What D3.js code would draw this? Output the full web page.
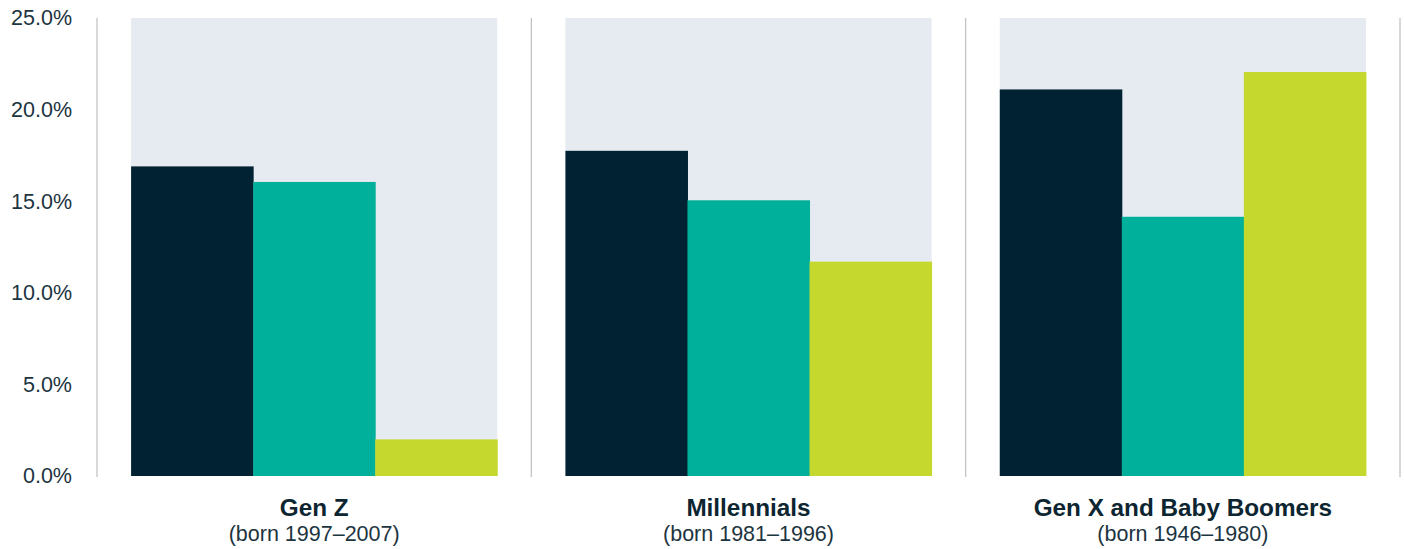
<!DOCTYPE html>
<html>
<head>
<meta charset="utf-8">
<script src="https://cdn.jsdelivr.net/npm/d3@7"></script>
<style>
  body { margin: 0; background: #fff; }
  .tick-label { font-family: "Liberation Sans", Arial, sans-serif; font-size: 21.5px; fill: #1c3440; }
  .group-title { font-family: "Liberation Sans", Arial, sans-serif; font-size: 24.3px; font-weight: bold; fill: #0c2531; }
  .group-sub { font-family: "Liberation Sans", Arial, sans-serif; font-size: 21.5px; fill: #1c3440; }
</style>
</head>
<body>
<svg id="chart"></svg>
<script>
// data
const groups = ['Gen Z', 'Millennials', 'Gen X and Baby Boomers'];
const subtitles = ['(born 1997\u20132007)', '(born 1981\u20131996)', '(born 1946\u20131980)'];
const seriesKeys = ['s1', 's2', 's3'];
const s1 = [16.9, 17.75, 21.1];
const s2 = [16.05, 15.05, 14.15];
const s3 = [2.0, 11.7, 22.05];
const yTicks = [0, 5, 10, 15, 20, 25];

const colors = ['#002233', '#00b09a', '#c5d82e'];

const width = 1404, height = 549;
const margin = {top: 18, right: 4, bottom: 73, left: 97};

const svg = d3.select('#chart')
    .attr('width', width)
    .attr('height', height);

const innerW = width - margin.left - margin.right;
const innerH = height - margin.top - margin.bottom;

const chart = svg.append('g')
    .attr('transform', `translate(${margin.left},${margin.top})`);

const pad = 0.157;
const x0 = d3.scaleBand()
    .domain(groups)
    .range([0, innerW])
    .paddingInner(pad)
    .paddingOuter(pad / 2);

const x1 = d3.scaleBand()
    .domain(seriesKeys)
    .range([0, x0.bandwidth()]);

const y = d3.scaleLinear()
    .domain([0, 25])
    .range([innerH, 0]);

const rows = groups.map((g, i) => ({group: g, sub: subtitles[i], values: [s1[i], s2[i], s3[i]]}));

// separators
const seps = d3.range(groups.length + 1).map(i => i * x0.step());
chart.selectAll('.sep')
  .data(seps)
  .join('line')
    .attr('class', 'sep')
    .attr('x1', d => d).attr('x2', d => d)
    .attr('y1', y(25)).attr('y2', y(0) + 1)
    .attr('stroke', '#bcc0c0')
    .attr('stroke-width', 1.2);

const g = chart.selectAll('.grp')
  .data(rows)
  .join('g')
    .attr('class', 'grp')
    .attr('transform', d => `translate(${x0(d.group)},0)`);

// panel background
g.append('rect')
    .attr('x', 0)
    .attr('y', y(25))
    .attr('width', x0.bandwidth())
    .attr('height', y(0) - y(25))
    .attr('fill', '#e5ebf0');

g.selectAll('.bar')
  .data(d => d.values.map((v, i) => ({key: seriesKeys[i], v, i})))
  .join('rect')
    .attr('class', 'bar')
    .attr('x', d => x1(d.key))
    .attr('y', d => y(d.v))
    .attr('width', x1.bandwidth() + 0.5)
    .attr('height', d => y(0) - y(d.v))
    .attr('fill', d => colors[d.i]);

g.append('text')
    .attr('class', 'group-title')
    .attr('x', x0.bandwidth() / 2)
    .attr('y', innerH + 40)
    .attr('text-anchor', 'middle')
    .text(d => d.group);

g.append('text')
    .attr('class', 'group-sub')
    .attr('x', x0.bandwidth() / 2)
    .attr('y', innerH + 65)
    .attr('text-anchor', 'middle')
    .text(d => d.sub);

// y axis labels
const yAxis = d3.axisLeft(y)
    .tickValues(yTicks)
    .tickSize(0)
    .tickPadding(25)
    .tickFormat(d => d.toFixed(1) + '%');

const yAxisG = chart.append('g').call(yAxis);
yAxisG.select('.domain').remove();
yAxisG.selectAll('text')
    .attr('class', 'tick-label')
    .attr('font-size', null)
    .attr('font-family', null)
    .attr('fill', null);
</script>
</body>
</html>
